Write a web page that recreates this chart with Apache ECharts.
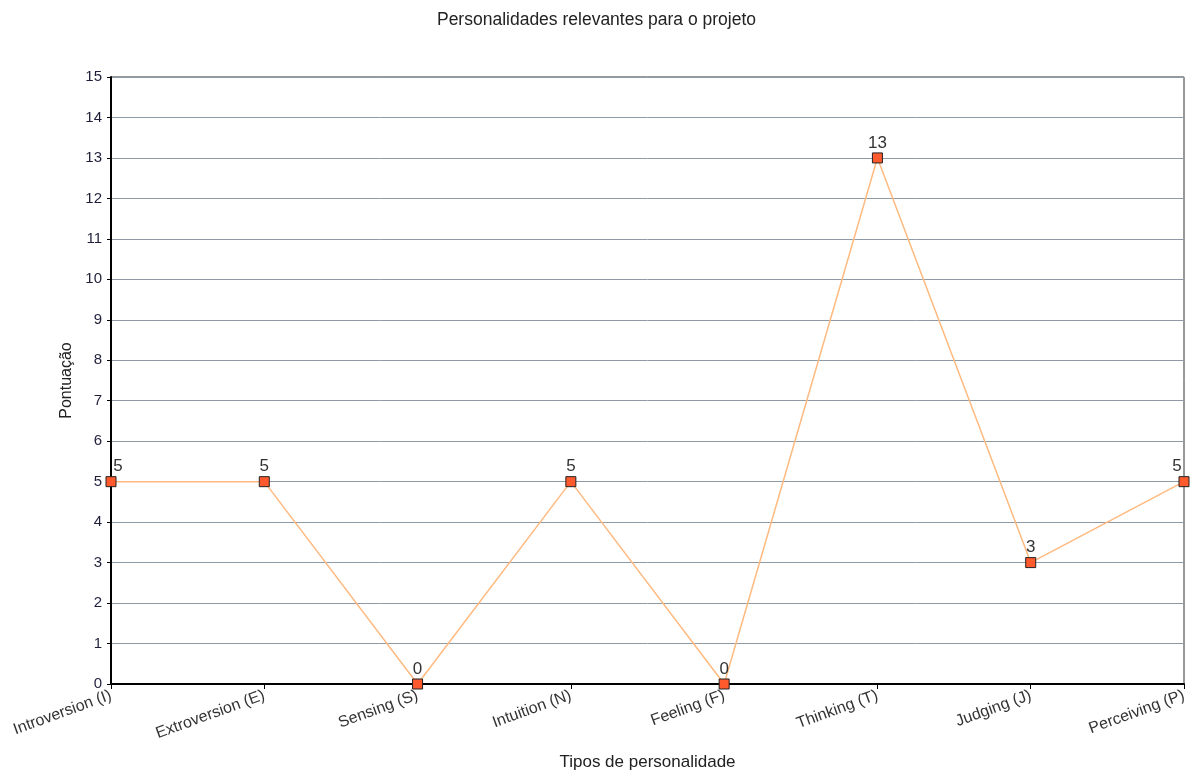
<!DOCTYPE html>
<html>
<head>
<meta charset="utf-8">
<script src="https://cdn.jsdelivr.net/npm/echarts@6/dist/echarts.min.js"></script>
<style>html,body{margin:0;padding:0;background:#fff}#c{width:1193px;height:776px}</style>
</head>
<body>
<div id="c"></div>
<script>
const categories = ['Introversion (I)','Extroversion (E)','Sensing (S)','Intuition (N)','Feeling (F)','Thinking (T)','Judging (J)','Perceiving (P)'];
const scores = [5,5,0,5,0,13,3,5];
const titleText = 'Personalidades relevantes para o projeto';
const xName = 'Tipos de personalidade';
const yName = 'Pontuação';

const chart = echarts.init(document.getElementById('c'));
const font = 'Liberation Sans, Arial, sans-serif';
const last = scores.length - 1;
const seriesData = scores.map((v, i) => {
  if (i === 0) return {value: v, label: {offset: [7, 0]}};
  if (i === last) return {value: v, label: {offset: [-7, 0]}};
  return v;
});
chart.setOption({
  animation: false,
  textStyle: {fontFamily: font},
  title: {
    text: titleText, left: 'center', top: 6,
    textStyle: {fontSize: 17.5, fontWeight: 'normal', color: '#222', fontFamily: font}
  },
  grid: {
    left: 111, right: 9, top: 77, bottom: 89,
    show: true, borderColor: '#333', borderWidth: 1, backgroundColor: '#fff'
  },
  xAxis: {
    type: 'category', data: categories, boundaryGap: false,
    name: xName, nameLocation: 'middle', nameGap: 70,
    nameTextStyle: {fontSize: 17, color: '#222', fontFamily: font},
    axisLine: {lineStyle: {color: '#000', width: 2}},
    axisTick: {show: true, alignWithLabel: true, length: 5, lineStyle: {color: '#000', width: 1}},
    axisLabel: {rotate: 20, fontSize: 16, color: '#333', margin: 11, interval: 0, fontFamily: font},
    splitLine: {show: false}
  },
  yAxis: {
    type: 'value', min: 0, max: 15, interval: 1,
    name: yName, nameLocation: 'middle', nameGap: 35, nameRotate: 90,
    nameTextStyle: {fontSize: 16, color: '#222', fontFamily: font},
    axisLine: {show: true, lineStyle: {color: '#000', width: 2}},
    axisTick: {show: true, length: 4, lineStyle: {color: '#000'}},
    axisLabel: {fontSize: 15, color: '#1f1f3a', margin: 9, fontFamily: font},
    splitLine: {show: true, lineStyle: {color: '#8e9ba6', width: 1}}
  },
  series: [{
    type: 'line', data: seriesData,
    symbol: 'rect', symbolSize: 10,
    itemStyle: {color: '#ff5a2e', borderColor: '#222', borderWidth: 1},
    lineStyle: {color: '#ffba80', width: 1.5},
    label: {show: true, position: 'top', distance: 1, fontSize: 17, color: '#333', fontFamily: font},
    clip: false
  }]
});
</script>
</body>
</html>
